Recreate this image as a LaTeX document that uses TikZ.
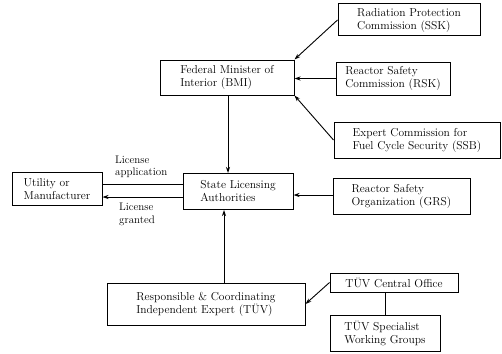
\documentclass[tikz,border=0pt]{standalone}
\usetikzlibrary{arrows.meta}
\tikzset{
  box/.style={draw, line width=1pt, align=left, inner sep=2pt, font=\fontsize{11.5}{13}\selectfont},
  link/.style={line width=0.9pt, -{Stealth[length=6pt,width=4pt]}},
  lbl/.style={align=left, inner sep=1pt, font=\fontsize{11}{12.5}\selectfont}
}
\begin{document}
\begin{tikzpicture}[x=1pt, y=-1pt]
\useasboundingbox (0,0) rectangle (502,353);

\node[box, minimum width=142pt, minimum height=32pt] (ssk) at (409,20) {Radiation Protection\\Commission (SSK)};
\node[box, minimum width=134pt, minimum height=35pt] (bmi) at (227,77.5) {Federal Minister of\\Interior (BMI)};
\node[box, minimum width=114pt, minimum height=33pt] (rsk) at (393,78.5) {Reactor Safety\\Commission (RSK)};
\node[box, minimum width=166pt, minimum height=36pt] (ssb) at (417,140) {Expert Commission for\\Fuel Cycle Security (SSB)};
\node[box, minimum width=90pt, minimum height=33pt] (util) at (57,189) {Utility or\\Manufacturer};
\node[box, minimum width=110pt, minimum height=36pt] (state) at (238,191.5) {State Licensing\\Authorities};
\node[box, minimum width=137pt, minimum height=36pt] (grs) at (401.5,196) {Reactor Safety\\Organization (GRS)};
\node[box, minimum width=128pt, minimum height=19pt] (central) at (394,282.5) {T\"UV Central Office};
\node[box, minimum width=198pt, minimum height=42pt] (tuv) at (206,304) {Responsible \& Coordinating\\Independent Expert (T\"UV)};
\node[box, minimum width=110pt, minimum height=36pt] (groups) at (385,333) {T\"UV Specialist\\Working Groups};

% commissions advise the ministry
\draw[link] (ssk.west |- 0,20) -- (bmi.north east);
\draw[link] (rsk.west) -- (bmi.east |- rsk.west);
\draw[link] (ssb.west) -- (bmi.south east);
\draw[link] (bmi.south -| 228,0) -- (state.north -| 228,0);

% licensing
\coordinate (appl) at (state.west |- 0,184);
\coordinate (gran) at (state.west |- 0,197);
\draw[line width=0.9pt] (appl) -- (util.east |- appl);
\draw[link] (gran) -- (util.east |- gran);
\node[lbl, anchor=south west] (lapp) at (114,179) {License\\application};
\node[lbl, anchor=north west] (lgra) at (118,202) {License\\granted};

\draw[link] (grs.west |- 0,195) -- (state.east |- 0,195);
\draw[link] (tuv.north -| 224,0) -- (state.south -| 224,0);
\draw[link] (central.west) -- (tuv.east);
\draw[line width=0.9pt] (central.south -| groups.north) -- (groups.north);
\end{tikzpicture}
\end{document}
